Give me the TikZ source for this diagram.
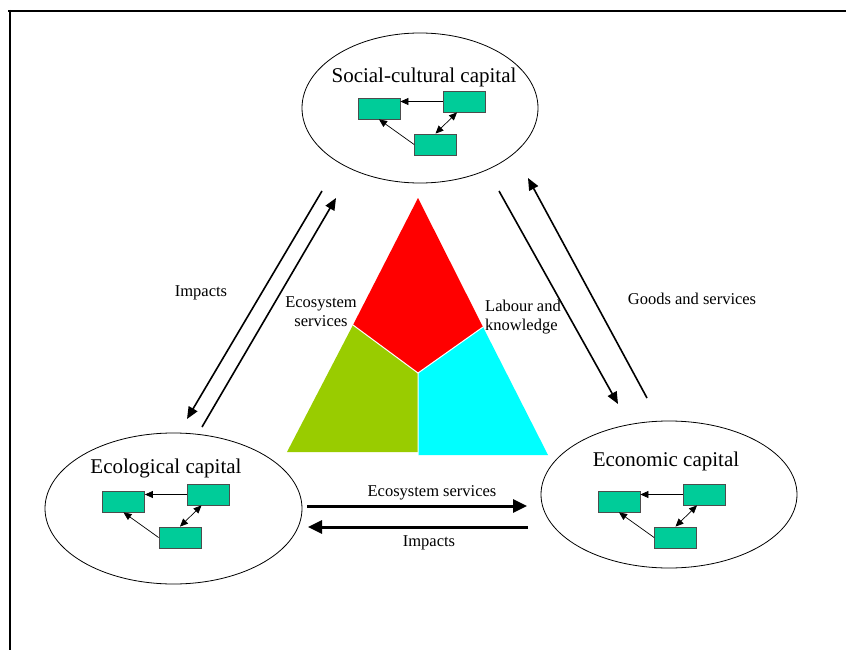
\documentclass[tikz,border=0pt]{standalone}
\usepackage{fontspec}
\setmainfont{Liberation Serif}
\usetikzlibrary{shapes.geometric,arrows.meta}

\definecolor{boxgreen}{RGB}{0,204,153}
\definecolor{segred}{RGB}{255,0,0}
\definecolor{seggreen}{RGB}{153,204,0}
\definecolor{segcyan}{RGB}{0,255,255}

\tikzstyle {capital} = [draw, ellipse, line width=0.8pt, inner sep=0pt]
\tikzstyle {captitle} = [font=\fontsize{21}{24}\selectfont]
\tikzstyle {minibox} = [draw=black!70, fill=boxgreen, minimum width=42pt, minimum height=21pt, inner sep=0pt, line width=0.8pt]
\tikzstyle {minilink} = [line width=0.7pt, >={Triangle[length=8pt,width=7pt]}]
\tikzstyle {flow} = [-{Triangle[length=12pt,width=10pt]}, line width=1.6pt]
\tikzstyle {bigflow} = [-{Triangle[length=14pt,width=13pt]}, line width=3pt]
\tikzstyle {flowlabel} = [font=\fontsize{16.5}{19}\selectfont, inner sep=0pt]

% three linked boxes of one capital: #1 prefix, (#2,#3) centre of the left box
\newcommand{\capboxes}[3]{
    \node [minibox] (#1a) at (#2,#3) {};
    \node [minibox] (#1b) at (#2+85,#3-7) {};
    \node [minibox] (#1c) at (#2+56.5,#3+36) {};
    \draw [minilink, ->] (#1b.west) -- (#1a.east |- #1b.west);
    \draw [minilink, ->] (#1c.west) -- (#1a.south);
    \draw [minilink, <->] (#1c.north) -- ([xshift=-7pt]#1b.south);
}

\begin{document}
\begin{tikzpicture}[x=1pt, y=-1pt]
            \useasboundingbox (0,0) rectangle (846,650);
            \draw [line width=2pt] (8,11) -- (846,11);
            \draw [line width=2pt] (10,10) -- (10,650);

            % the three capitals
            \node [capital, minimum width=236pt, minimum height=150pt] (social) at (420,108) {};
            \node [captitle] (socialtitle) at (424,77) {Social-cultural capital};
            \capboxes{soc}{379}{108.5}

            \node [capital, minimum width=257pt, minimum height=151pt] (ecological) at (173.5,508.5) {};
            \node [captitle] (ecologicaltitle) at (166,468) {Ecological capital};
            \capboxes{eco}{123.5}{501.5}

            \node [capital, minimum width=256pt, minimum height=147pt] (economic) at (669,494.5) {};
            \node [captitle] (economictitle) at (666,461) {Economic capital};
            \capboxes{ecn}{619}{501.5}

            % central triangle
            \coordinate (apex) at (418,198);
            \coordinate (botleft) at (287,452);
            \coordinate (botright) at (548,455);
            \coordinate (centre) at (418,373);
            \coordinate (sideleft) at (353,325);
            \coordinate (sideright) at (483,327);
            \coordinate (botmidg) at (418,452);
            \coordinate (botmidc) at (418,455);
            \fill [segred] (apex) -- (sideright) -- (centre) -- (sideleft) -- cycle;
            \fill [seggreen] (sideleft) -- (centre) -- (botmidg) -- (botleft) -- cycle;
            \fill [segcyan] (centre) -- (sideright) -- (botright) -- (botmidc) -- cycle;
            \draw [white, line width=1pt] (sideleft) -- (centre) -- (sideright) (centre) -- (botmidc);

            \node [flowlabel, align=center] (trieco) at (321,312) {Ecosystem\\services};
            \node [flowlabel, align=left] (trilab) at (523,317) {Labour and\\knowledge};

            % flows between capitals
            \coordinate (imps) at (322,191);
            \coordinate (impe) at (187,419);
            \coordinate (esvs) at (202,427);
            \coordinate (esve) at (336,198);
            \draw [flow] (imps) -- (impe);
            \draw [flow] (esvs) -- (esve);
            \node [flowlabel] (implab) at (201,293) {Impacts};

            \coordinate (labs) at (499,191);
            \coordinate (labe) at (618,404);
            \coordinate (goods) at (647,398);
            \coordinate (goode) at (528,178);
            \draw [flow] (labs) -- (labe);
            \draw [flow] (goods) -- (goode);
            \node [flowlabel] (goodlab) at (692,299) {Goods and services};

            \coordinate (bess) at (307,506);
            \coordinate (bese) at (527,506);
            \coordinate (bims) at (528,527);
            \coordinate (bime) at (308,527);
            \draw [bigflow] (bess) -- (bese);
            \draw [bigflow] (bims) -- (bime);
            \node [flowlabel] (besl) at (432,493) {Ecosystem services};
            \node [flowlabel] (biml) at (429,543) {Impacts};
        \end{tikzpicture}
\end{document}
